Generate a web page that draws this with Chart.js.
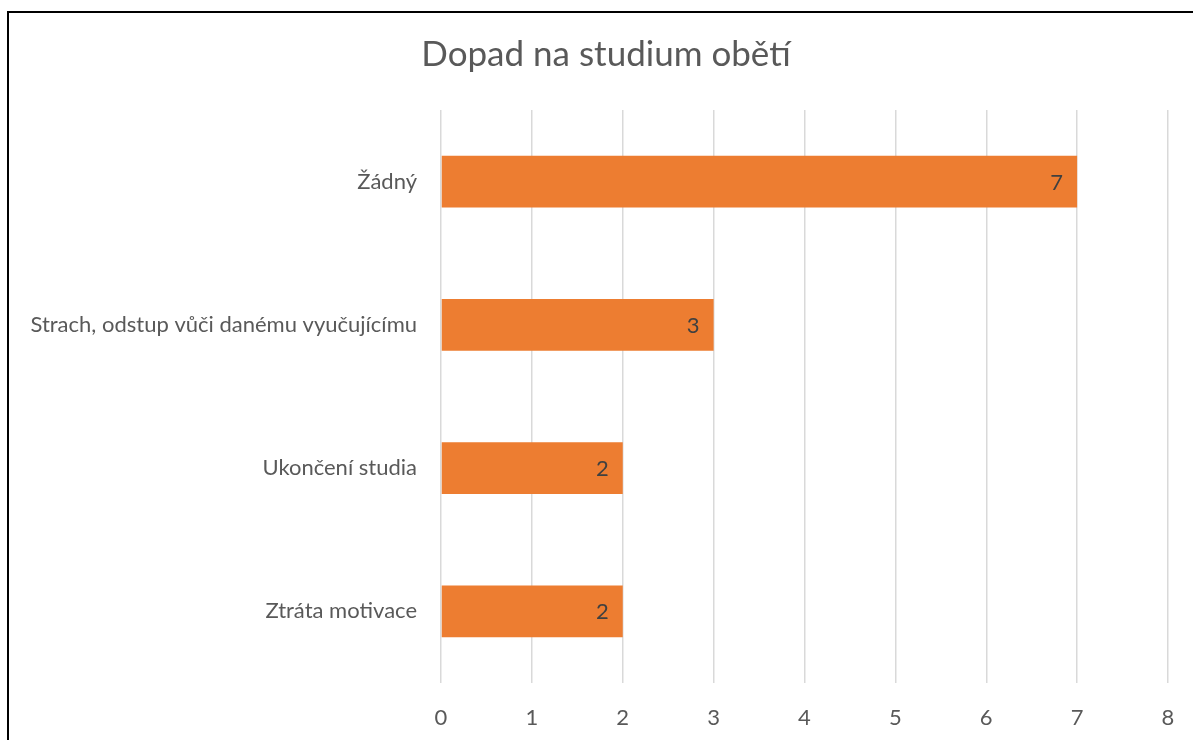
<!DOCTYPE html>
<html>
<head>
<meta charset="utf-8">
<script src="https://cdn.jsdelivr.net/npm/chart.js@4.4.1/dist/chart.umd.min.js"></script>
<style>
  html, body { margin: 0; padding: 0; overflow: hidden; background: #fff; }
  #frame {
    position: absolute; left: 7px; top: 11px;
    width: 1260px; height: 800px;
    border: 2px solid #000; box-sizing: border-box;
  }
  #wrap { position: absolute; left: 0; top: 0; width: 1212px; height: 740px; }
</style>
</head>
<body>
<div id="frame"></div>
<div id="wrap"><canvas id="chart"></canvas></div>
<script>
const categories = ['Žádný', 'Strach, odstup vůči danému vyučujícímu', 'Ukončení studia', 'Ztráta motivace'];
const values = [7, 3, 2, 2];
const xTicks = [0, 1, 2, 3, 4, 5, 6, 7, 8];

const fontFamily = 'Lato, "Open Sans", sans-serif';

// value labels drawn just inside the end of each bar
const barValueLabels = {
    id: 'barValueLabels',
    afterDatasetsDraw(chart) {
        const ctx = chart.ctx;
        const meta = chart.getDatasetMeta(0);
        ctx.save();
        ctx.font = '22px ' + fontFamily;
        ctx.fillStyle = '#404040';
        ctx.textAlign = 'right';
        ctx.textBaseline = 'middle';
        meta.data.forEach((bar, i) => {
            ctx.fillText(String(values[i]), bar.x - 14, bar.y + 1);
        });
        ctx.restore();
    }
};

new Chart(document.getElementById('chart'), {
    type: 'bar',
    data: {
        labels: categories,
        datasets: [{
            data: values,
            backgroundColor: '#ED7D31',
            borderWidth: 0,
            categoryPercentage: 1,
            barPercentage: 0.36
        }]
    },
    options: {
        indexAxis: 'y',
        responsive: true,
        maintainAspectRatio: false,
        animation: false,
        layout: {
            padding: 0
        },
        scales: {
            x: {
                min: 0,
                max: 8,
                afterBuildTicks: axis => {
                    axis.ticks = xTicks.map(v => ({ value: v }));
                },
                afterFit: axis => { axis.height = 57; },
                grid: {
                    color: '#d9d9d9',
                    lineWidth: 1.5,
                    drawTicks: false
                },
                border: { display: false },
                ticks: {
                    padding: 22,
                    color: '#595959',
                    font: { family: fontFamily, size: 22 }
                }
            },
            y: {
                afterFit: axis => { axis.width = 441; },
                grid: { display: false, drawTicks: false },
                border: { display: false },
                ticks: {
                    padding: 24,
                    color: '#595959',
                    font: { family: fontFamily, size: 22 }
                }
            },
            // empty right-hand spacer so the title stays centred on the whole frame
            yRight: {
                type: 'linear',
                position: 'right',
                afterFit: axis => { axis.width = 44; },
                grid: { display: false, drawTicks: false },
                border: { display: false },
                ticks: { display: false }
            }
        },
        plugins: {
            legend: { display: false },
            tooltip: { enabled: false },
            title: {
                display: true,
                text: 'Dopad na studium obětí',
                color: '#595959',
                font: { family: fontFamily, size: 35, weight: 'normal' },
                padding: { top: 34, bottom: 34 }
            }
        }
    },
    plugins: [barValueLabels]
});
</script>
</body>
</html>
